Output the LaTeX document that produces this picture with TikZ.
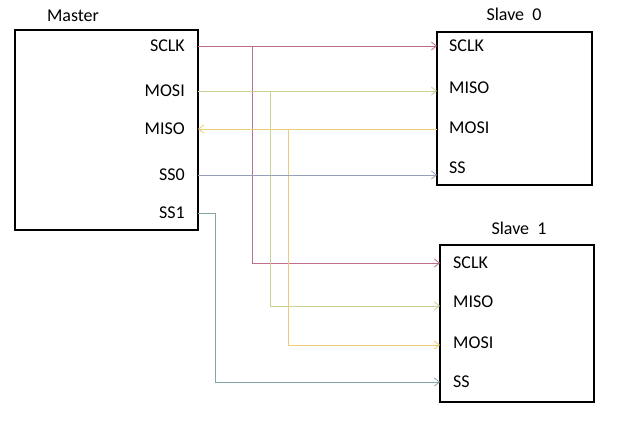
\documentclass[tikz,border=0pt]{standalone}
\usepackage{fontspec}
\setmainfont{Carlito}
\usetikzlibrary{arrows.meta}
\newcommand\mylblfont{\fontsize{18pt}{21pt}\selectfont}
\begin{document}
\begin{tikzpicture}[x=1pt,y=-1pt,
  box/.style={draw,line width=2pt},
  lbl/.style={font=\mylblfont,inner sep=1pt},
  wire/.style={line width=0.8pt,-{Straight Barb[length=5pt,width=8pt]}}]
\definecolor{csclk}{RGB}{190,110,140}
\definecolor{cmosi}{RGB}{200,210,150}
\definecolor{cmiso}{RGB}{235,205,120}
\definecolor{css0}{RGB}{150,160,185}
\definecolor{css1}{RGB}{130,165,165}
\useasboundingbox (0,0) rectangle (640,423);
\draw[box] (15,30) rectangle (198,230);
\draw[box] (437,32) rectangle (592,185);
\draw[box] (440,245) rectangle (594,402);
\node[lbl] (tm) at (73,16) {Master};
\node[lbl] (ts0) at (514,14) {Slave\ \ 0};
\node[lbl] (ts1) at (519,228) {Slave\ \ 1};
% master pins
\coordinate (msclk) at (198,46); \node[lbl,anchor=east] at (186,46) {SCLK};
\coordinate (mmosi) at (198,91); \node[lbl,anchor=east] at (186,91) {MOSI};
\coordinate (mmiso) at (198,129); \node[lbl,anchor=east] at (186,129) {MISO};
\coordinate (mss0) at (198,175); \node[lbl,anchor=east] at (186,175) {SS0};
\coordinate (mss1) at (198,213); \node[lbl,anchor=east] at (186,213) {SS1};
% slave0
\coordinate (asclk) at (437,46); \node[lbl,anchor=west] at (448,46) {SCLK};
\coordinate (amiso) at (437,91); \node[lbl,anchor=west] at (448,88) {MISO};
\coordinate (amosi) at (437,129); \node[lbl,anchor=west] at (448,128) {MOSI};
\coordinate (ass) at (437,175); \node[lbl,anchor=west] at (448,168) {SS};
% slave1
\coordinate (bsclk) at (440,263); \node[lbl,anchor=west] at (452,263) {SCLK};
\coordinate (bmiso) at (440,306); \node[lbl,anchor=west] at (452,302) {MISO};
\coordinate (bmosi) at (440,345); \node[lbl,anchor=west] at (452,343) {MOSI};
\coordinate (bss) at (440,382); \node[lbl,anchor=west] at (452,382) {SS};
% wires
\draw[wire,csclk] (msclk) -- (asclk);
\draw[wire,csclk] (252,46) |- (bsclk);
\draw[wire,cmosi] (mmosi) -- (amiso);
\draw[wire,cmosi] (270,91) |- (bmiso);
\draw[wire,cmiso] (amosi) -- (mmiso);
\draw[wire,cmiso] (288,129) |- (bmosi);
\draw[wire,css0] (mss0) -- (ass);
\draw[wire,css1] (mss1) -- (215,213) |- (bss);
\end{tikzpicture}
\end{document}
